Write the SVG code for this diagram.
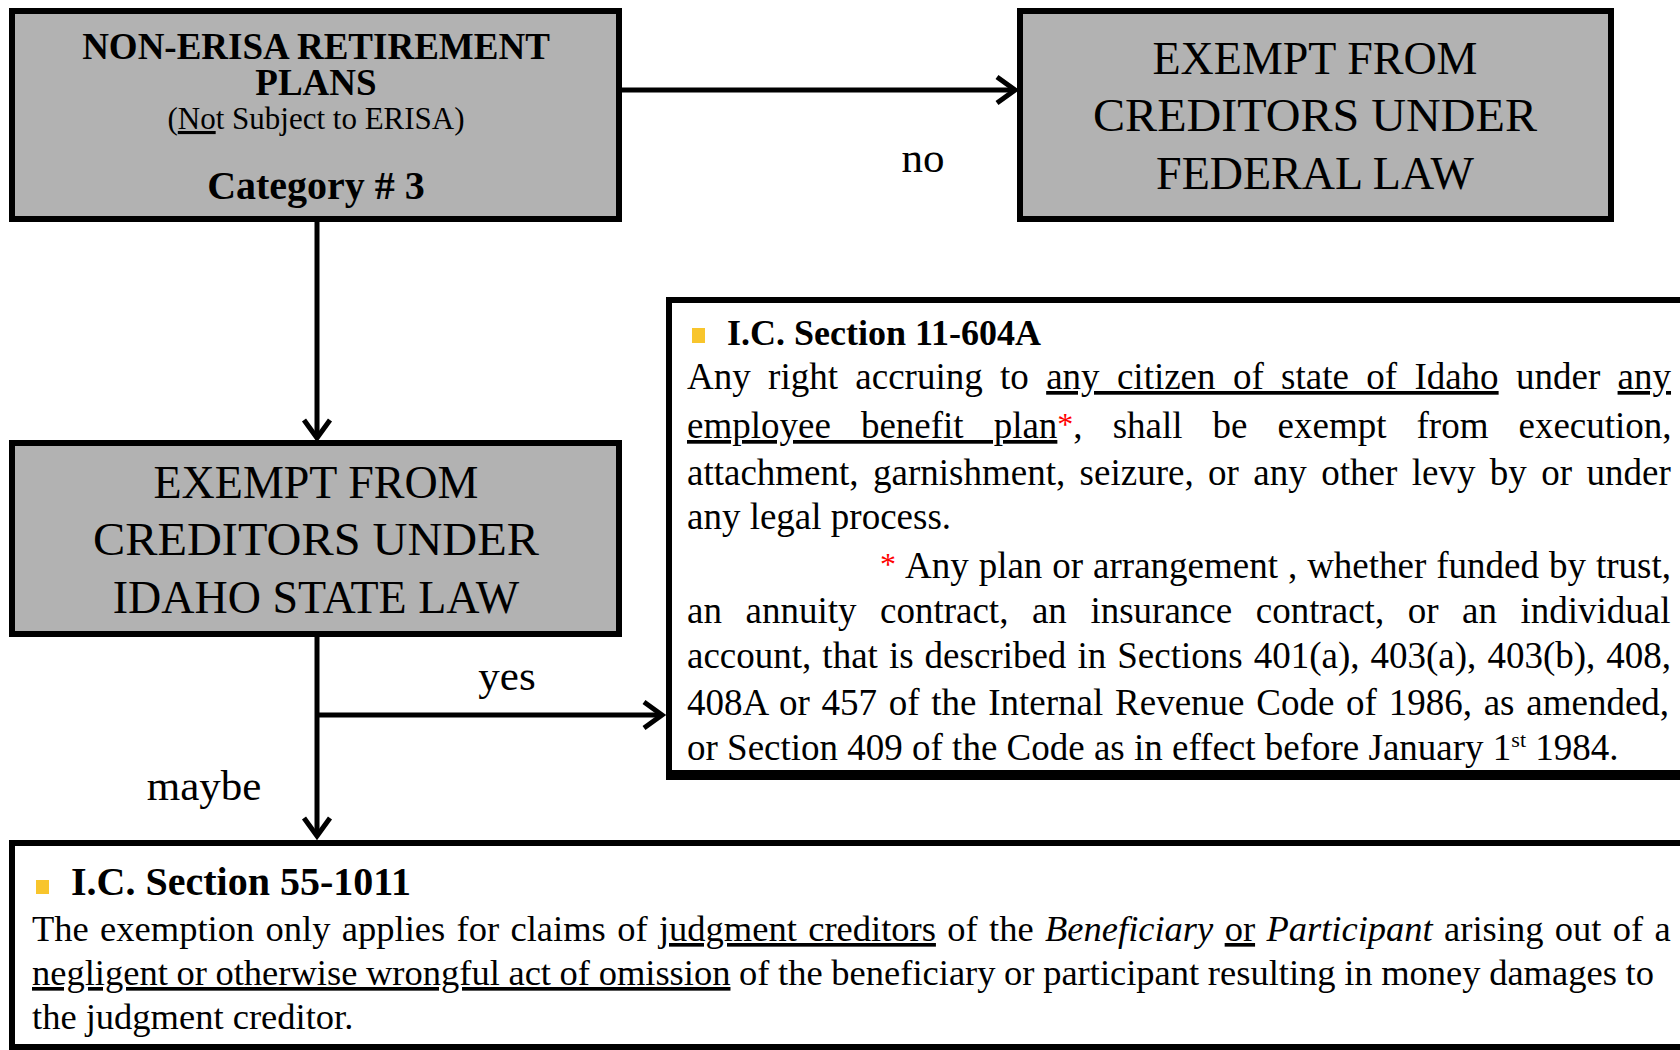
<svg xmlns="http://www.w3.org/2000/svg" width="1680" height="1050" viewBox="0 0 1680 1050">
<style>
text{font-family:"Liberation Serif","Times New Roman",serif;fill:#000}
.box{fill:#b2b2b2;stroke:#000;stroke-width:6}
.wbox{fill:#fff;stroke:#000;stroke-width:6}
.big{font-size:46px;text-anchor:middle}
.b1{font-weight:bold;text-anchor:middle}
.body{font-size:37px}
.body5{font-size:36.5px}
.lbl{font-size:43px;text-anchor:middle}
.u{text-decoration:underline}
.ast{fill:#ff0000}
.bul{fill:#f8c52c}
.conn{stroke:#000;stroke-width:5;fill:none}
</style>
<defs>
<marker id="arr" markerUnits="userSpaceOnUse" viewBox="-30 -20 40 40" markerWidth="40" markerHeight="40" refX="0" refY="0" orient="auto" overflow="visible">
<path d="M-18,-13 L0,0 L-18,13" fill="none" stroke="#000" stroke-width="5"/>
</marker>
</defs>
<rect width="1680" height="1050" fill="#fff"/>

<g id="connectors">
<line class="conn" x1="622" y1="90" x2="1015" y2="90" marker-end="url(#arr)"/>
<line class="conn" x1="317" y1="222" x2="317" y2="438" marker-end="url(#arr)"/>
<line class="conn" x1="317" y1="637" x2="317" y2="836" marker-end="url(#arr)"/>
<line class="conn" x1="317" y1="715" x2="662" y2="715" marker-end="url(#arr)"/>
<text class="lbl" x="923" y="172">no</text>
<text class="lbl" x="507" y="690">yes</text>
<text class="lbl" x="204" y="800">maybe</text>
</g>

<g id="node-nonerisa">
<rect class="box" x="12" y="11" width="607" height="208"/>
<text class="b1" font-size="37"><tspan x="316" y="59">NON-ERISA RETIREMENT</tspan><tspan x="316" y="95">PLANS</tspan></text>
<text x="316" y="129" font-size="31" text-anchor="middle">(<tspan class="u">No</tspan>t Subject to ERISA)</text>
<text class="b1" x="316" y="199" font-size="40">Category # 3</text>
</g>

<g id="node-federal">
<rect class="box" x="1020" y="11" width="591" height="208"/>
<text class="big" x="1315" y="74">EXEMPT FROM</text>
<text class="big" x="1315" y="131" textLength="444" lengthAdjust="spacingAndGlyphs">CREDITORS UNDER</text>
<text class="big" x="1315" y="189">FEDERAL LAW</text>
</g>

<g id="node-idaho">
<rect class="box" x="12" y="443" width="607" height="191"/>
<text class="big" x="316" y="498">EXEMPT FROM</text>
<text class="big" x="316" y="555" textLength="446" lengthAdjust="spacingAndGlyphs">CREDITORS UNDER</text>
<text class="big" x="316" y="613">IDAHO STATE LAW</text>
</g>

<g id="node-ic11604a">
<rect class="wbox" x="669" y="300" width="1100" height="474"/>
<line x1="666" y1="775" x2="1680" y2="775" stroke="#000" stroke-width="10"/>
<rect class="bul" x="692" y="328" width="13" height="15"/>
<text x="727" y="345" font-size="36" font-weight="bold">I.C. Section 11-604A</text>
<text class="body" x="687" y="389" word-spacing="8.1">Any right accruing to <tspan class="u">any citizen of state of Idaho</tspan> under <tspan class="u">any</tspan></text>
<text class="body" x="687" y="438" word-spacing="20.8"><tspan class="u">employee benefit plan</tspan><tspan class="ast" font-size="32" dy="-3">*</tspan><tspan dy="3">, shall be exempt from execution,</tspan></text>
<text class="body" x="687" y="485" word-spacing="5.2">attachment, garnishment, seizure, or any other levy by or under</text>
<text class="body" x="687" y="529">any legal process.</text>
<text class="ast" x="880" y="575" font-size="32">*</text>
<text class="body" x="905" y="578" word-spacing="0.7">Any plan or arrangement , whether funded by trust,</text>
<text class="body" x="687" y="623" word-spacing="14.3">an annuity contract, an insurance contract, or an individual</text>
<text class="body" x="687" y="668" word-spacing="1.8">account, that is described in Sections 401(a), 403(a), 403(b), 408,</text>
<text class="body" x="687" y="715" word-spacing="2.5">408A or 457 of the Internal Revenue Code of 1986, as amended,</text>
<text class="body" x="687" y="760">or Section 409 of the Code as in effect before January 1<tspan font-size="22" dy="-13">st</tspan><tspan dy="13"> 1984.</tspan></text>
</g>

<g id="node-ic551011">
<rect class="wbox" x="12" y="843" width="1700" height="204"/>
<rect class="bul" x="36" y="880" width="13" height="14"/>
<text x="71" y="895" font-size="40" font-weight="bold">I.C. Section 55-1011</text>
<text class="body5" x="32" y="941" word-spacing="2.25">The exemption only applies for claims of <tspan class="u">judgment creditors</tspan> of the <tspan font-style="italic">Beneficiary</tspan> <tspan class="u">or</tspan> <tspan font-style="italic">Participant</tspan> arising out of a</text>
<text class="body5" x="32" y="985" word-spacing="-0.5"><tspan class="u">negligent or otherwise wrongful act of omission</tspan> of the beneficiary or participant resulting in money damages to</text>
<text class="body5" x="32" y="1029">the judgment creditor.</text>
</g>
</svg>
